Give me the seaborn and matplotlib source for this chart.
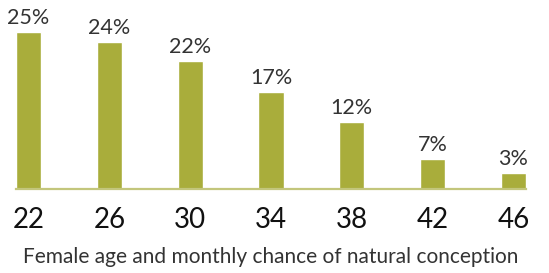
import matplotlib
matplotlib.use("Agg")
import matplotlib.pyplot as plt
import seaborn as sns

ages = ["22", "26", "30", "34", "38", "42", "46"]
chance = [25.0, 23.4, 20.4, 15.5, 10.7, 4.8, 2.6]
chance_labels = ["25%", "24%", "22%", "17%", "12%", "7%", "3%"]

sns.set_style("white")
plt.rcParams["font.family"] = ["Lato", "DejaVu Sans"]

fig = plt.figure(figsize=(5.49, 2.73), dpi=100)
ax = fig.add_axes([16 / 549, (273 - 189.3) / 273, 510 / 549, 189.3 / 273])

sns.barplot(x=ages, y=chance, color="#a9ad3b", width=0.31, saturation=1, ax=ax)
ax.bar_label(ax.containers[0], labels=chance_labels, padding=3,
             fontsize=15.5, color="#333333")

ax.set_xlim(-0.155, 6.155)
ax.set_ylim(0, 30.1)
ax.set_yticks([])
ax.set_ylabel("")
for s in ["top", "left", "right"]:
    ax.spines[s].set_visible(False)
ax.spines["bottom"].set_color("#c3c67c")
ax.spines["bottom"].set_linewidth(1.6)
ax.tick_params(axis="x", length=0, pad=13, labelsize=20, labelcolor="#111111")
ax.set_xlabel("Female age and monthly chance of natural conception",
              fontsize=15, color="#333333", labelpad=10)

fig.savefig("out.png", dpi=100)
